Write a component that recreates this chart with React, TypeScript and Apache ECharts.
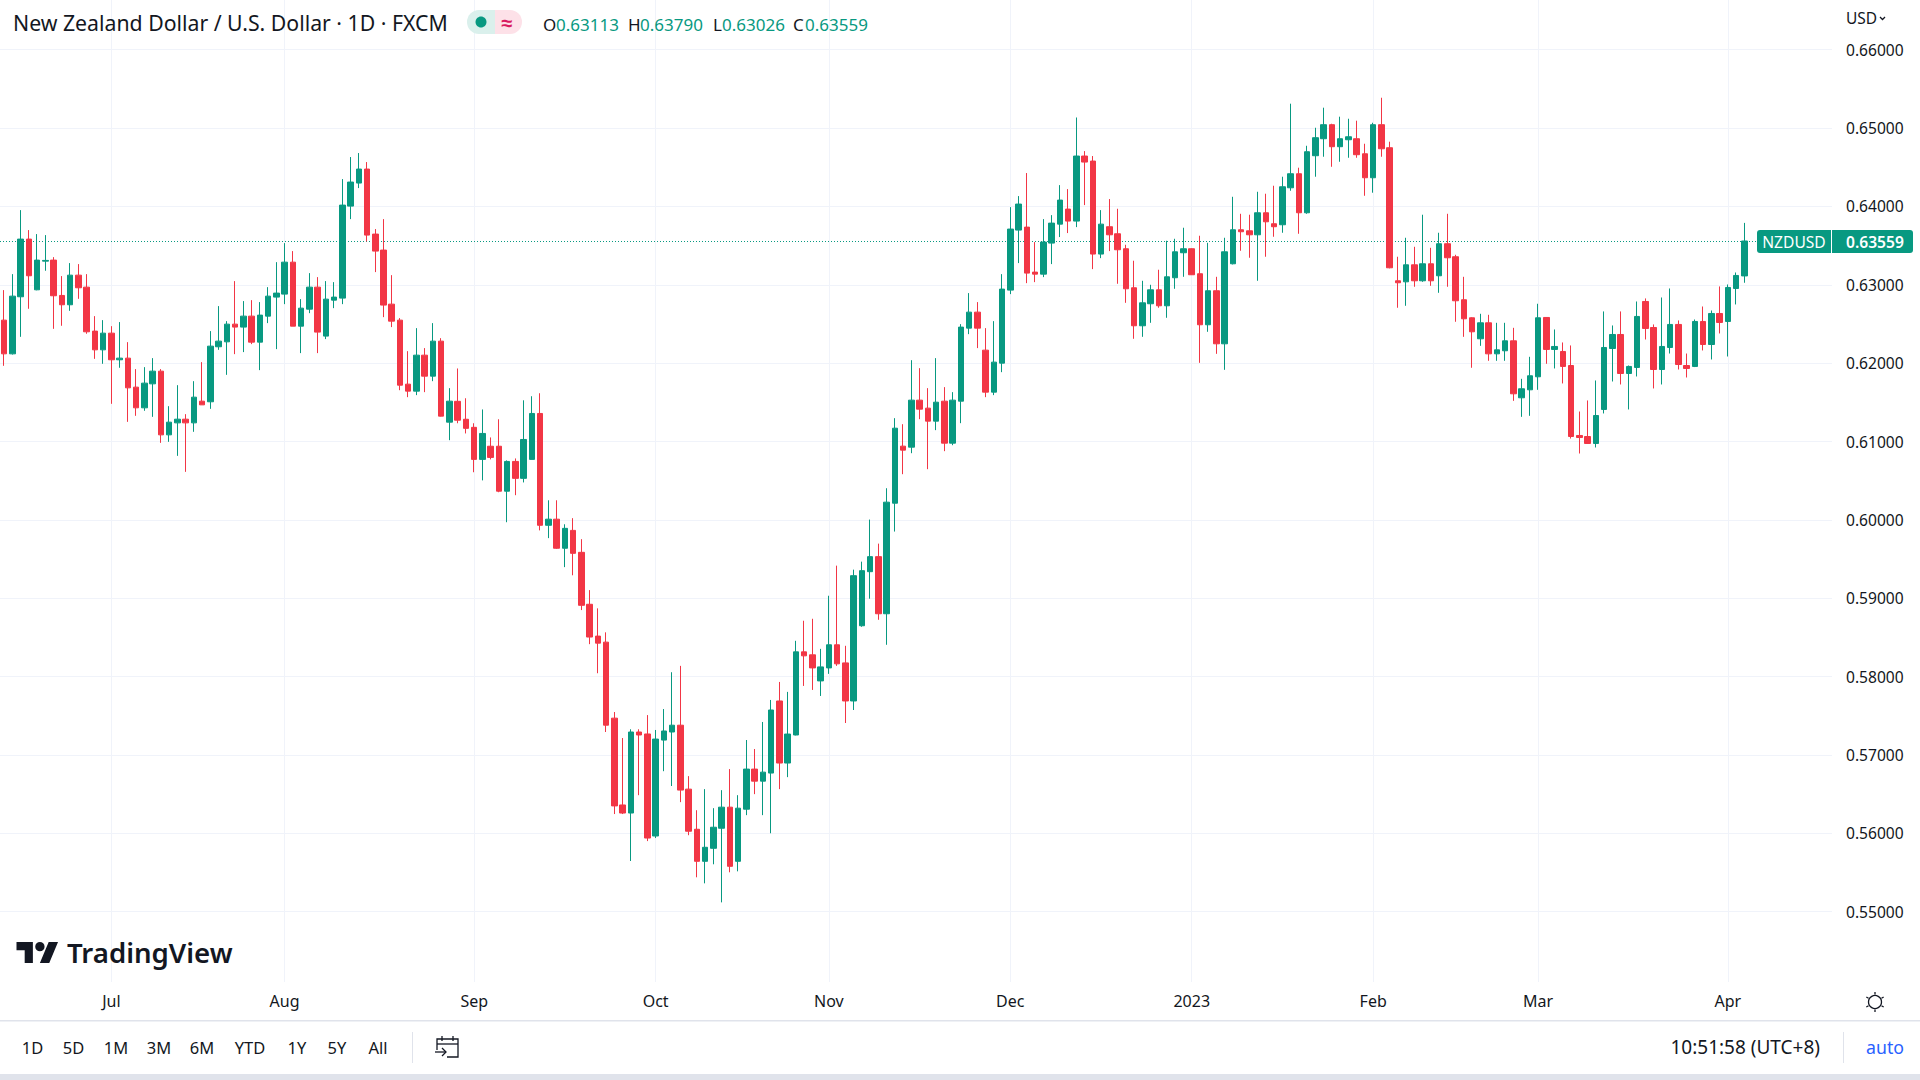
import React, { useEffect, useRef } from "react";
import * as echarts from "echarts";

const FONT = "'Noto Sans', sans-serif";
const INK = "#131722";
const UP = "#089981";
const DOWN = "#F23645";
const RULE = "#e0e3eb";
const GRIDC = "#f0f3fa";

const opens = [0.62549,0.62119,0.62847,0.63583,0.62936,0.63302,0.63315,0.62864,0.62745,0.63123,
0.62970,0.62409,0.62170,0.62383,0.62043,0.62064,0.61694,0.61430,0.61736,0.61898,
0.61085,0.61238,0.61285,0.61238,0.61515,0.61507,0.62209,0.62272,0.62498,0.62460,
0.62600,0.62268,0.62600,0.62843,0.62881,0.63289,0.62472,0.62689,0.62970,0.62345,
0.62804,0.62830,0.64004,0.64298,0.64477,0.63647,0.63443,0.62753,0.62549,0.61732,
0.61643,0.62102,0.61834,0.62281,0.61247,0.61513,0.61284,0.61181,0.60772,0.60940,
0.60940,0.60366,0.60746,0.60530,0.60772,0.61358,0.59931,0.60009,0.59638,0.59866,
0.59586,0.58923,0.58517,0.58440,0.57470,0.56362,0.56259,0.57293,0.57268,0.55966,
0.57190,0.57293,0.57380,0.56564,0.56052,0.55643,0.55809,0.56065,0.56334,0.55643,
0.56308,0.56820,0.56666,0.56769,0.57689,0.56897,0.57255,0.58316,0.58278,0.57945,
0.58111,0.58406,0.58175,0.57689,0.58649,0.59339,0.59531,0.58802,0.60213,0.60941,
0.60928,0.61528,0.61426,0.61260,0.61515,0.60979,0.61515,0.62447,0.62651,0.62166,
0.61630,0.62000,0.62932,0.63698,0.63736,0.63162,0.63136,0.63532,0.63774,0.63966,
0.63813,0.64643,0.64579,0.63392,0.63741,0.63651,0.63460,0.62962,0.62477,0.62758,
0.62936,0.62732,0.63090,0.63409,0.63460,0.63141,0.62490,0.62924,0.62247,0.63268,
0.63702,0.63689,0.63638,0.63919,0.63779,0.63766,0.64238,0.64417,0.63919,0.64647,
0.64864,0.65043,0.64762,0.64851,0.64864,0.64672,0.64366,0.65043,0.64749,0.63051,
0.63038,0.63255,0.63051,0.63268,0.63115,0.63524,0.63358,0.62809,0.62579,0.62311,
0.62515,0.62119,0.62158,0.62285,0.61558,0.61660,0.61826,0.62583,0.62175,0.62149,
0.61970,0.61077,0.61064,0.60975,0.61409,0.62187,0.62366,0.61868,0.61945,0.62787,
0.62455,0.61919,0.62200,0.62494,0.61970,0.61958,0.62532,0.62238,0.62634,0.62532,
0.62953,0.63113];

const closes = [0.62119,0.62855,0.63583,0.63115,0.63315,0.63311,0.62860,0.62745,0.63123,0.62962,
0.62400,0.62170,0.62383,0.62043,0.62064,0.61685,0.61430,0.61745,0.61898,0.61085,
0.61247,0.61285,0.61238,0.61566,0.61468,0.62217,0.62281,0.62498,0.62460,0.62600,
0.62268,0.62613,0.62855,0.62894,0.63289,0.62472,0.62702,0.62970,0.62396,0.62817,
0.62843,0.64017,0.64311,0.64477,0.63634,0.63430,0.62741,0.62536,0.61719,0.61643,
0.62102,0.61834,0.62281,0.61324,0.61515,0.61272,0.61168,0.60772,0.61103,0.60797,
0.60366,0.60746,0.60530,0.61026,0.61358,0.59931,0.60009,0.59638,0.59892,0.59573,
0.58910,0.58505,0.58427,0.57380,0.56350,0.56259,0.57293,0.57255,0.55940,0.57203,
0.57306,0.57380,0.56552,0.56027,0.55643,0.55822,0.56078,0.56334,0.55579,0.56321,
0.56820,0.56666,0.56781,0.57574,0.56897,0.57267,0.58316,0.58265,0.58111,0.58124,
0.58406,0.58163,0.57689,0.59288,0.59352,0.59531,0.58802,0.60226,0.61170,0.60890,
0.61528,0.61413,0.61260,0.61502,0.60979,0.61528,0.62460,0.62651,0.62447,0.61630,
0.62013,0.62945,0.63711,0.64030,0.63149,0.63136,0.63545,0.63787,0.64081,0.63813,
0.64643,0.64566,0.63392,0.63774,0.63638,0.63447,0.62949,0.62477,0.62770,0.62936,
0.62732,0.63102,0.63421,0.63460,0.63128,0.62490,0.62924,0.62247,0.63421,0.63702,
0.63677,0.63638,0.63919,0.63804,0.63741,0.64251,0.64417,0.63919,0.64698,0.64877,
0.65043,0.64762,0.64864,0.64889,0.64660,0.64366,0.65043,0.64736,0.63217,0.63026,
0.63255,0.63051,0.63268,0.63051,0.63524,0.63345,0.62796,0.62566,0.62400,0.62515,
0.62119,0.62170,0.62285,0.61609,0.61673,0.61839,0.62579,0.62175,0.62213,0.61958,
0.61064,0.61051,0.60975,0.61332,0.62200,0.62366,0.61868,0.61958,0.62596,0.62443,
0.61919,0.62213,0.62494,0.61983,0.61932,0.62532,0.62238,0.62634,0.62519,0.62966,
0.63119,0.63559];

const lows = [0.61966,0.62110,0.62336,0.62694,0.62930,0.63179,0.62438,0.62477,0.62668,0.62821,
0.62375,0.62055,0.61992,0.61481,0.61941,0.61251,0.61328,0.61392,0.61315,0.60983,
0.60996,0.60817,0.60613,0.61124,0.61468,0.61417,0.62170,0.61851,0.62115,0.62141,
0.62243,0.61911,0.62511,0.62179,0.62753,0.62472,0.62128,0.62638,0.62128,0.62307,
0.62702,0.62753,0.63838,0.64234,0.63553,0.63162,0.62587,0.62460,0.61655,0.61566,
0.61592,0.61630,0.61770,0.61320,0.61017,0.61233,0.61103,0.60608,0.60504,0.60772,
0.60353,0.59970,0.60315,0.60478,0.60772,0.59866,0.59767,0.59630,0.59397,0.59293,
0.58849,0.58414,0.58043,0.57293,0.56246,0.56246,0.55647,0.56487,0.55901,0.55940,
0.56793,0.56604,0.56398,0.55976,0.55439,0.55362,0.55605,0.55119,0.55503,0.55515,
0.56232,0.56500,0.56232,0.56001,0.56564,0.56717,0.57250,0.57881,0.57830,0.57753,
0.58035,0.58137,0.57408,0.57574,0.58636,0.58994,0.58725,0.58406,0.59851,0.60583,
0.60851,0.61285,0.60647,0.61145,0.60877,0.60953,0.61234,0.62370,0.62192,0.61566,
0.61592,0.61885,0.62881,0.63277,0.63021,0.63034,0.63098,0.63264,0.63609,0.63660,
0.63736,0.64017,0.63200,0.63340,0.63430,0.63013,0.62770,0.62311,0.62336,0.62515,
0.62707,0.62579,0.62949,0.63102,0.63125,0.62004,0.62400,0.62119,0.61915,0.63260,
0.63434,0.63345,0.63051,0.63358,0.63613,0.63664,0.64200,0.63651,0.63906,0.64379,
0.64634,0.64506,0.64570,0.64621,0.64621,0.64136,0.64175,0.64634,0.63210,0.62707,
0.62732,0.62975,0.63038,0.62987,0.62898,0.62975,0.62528,0.62336,0.61941,0.62221,
0.62030,0.62030,0.62030,0.61519,0.61315,0.61328,0.61660,0.61992,0.61932,0.61741,
0.61038,0.60847,0.60970,0.60924,0.61358,0.61766,0.61728,0.61409,0.61830,0.62302,
0.61677,0.61728,0.62123,0.61919,0.61817,0.61950,0.62162,0.62047,0.62379,0.62085,
0.62749,0.63026];

const highs = [0.62932,0.63136,0.63953,0.63698,0.63647,0.63634,0.63353,0.63111,0.63277,0.63264,
0.63136,0.62600,0.62549,0.62472,0.62524,0.62268,0.61924,0.61949,0.62064,0.61924,
0.61451,0.61719,0.61349,0.61770,0.62013,0.62409,0.62728,0.62536,0.63047,0.62792,
0.62804,0.62779,0.62970,0.63289,0.63532,0.63430,0.62817,0.63149,0.63098,0.63047,
0.63034,0.64349,0.64630,0.64681,0.64566,0.63711,0.63838,0.63123,0.62575,0.62153,
0.62447,0.62192,0.62511,0.62319,0.61681,0.61932,0.61552,0.61233,0.61409,0.61052,
0.61284,0.60759,0.60784,0.61526,0.61578,0.61616,0.60250,0.60250,0.59944,0.60022,
0.59754,0.59104,0.58871,0.58565,0.57548,0.57216,0.57328,0.57328,0.57509,0.57319,
0.57586,0.58056,0.58137,0.56730,0.56295,0.56564,0.56321,0.56551,0.56820,0.56487,
0.57191,0.57076,0.57421,0.57702,0.57932,0.57805,0.58457,0.58713,0.58738,0.58354,
0.59032,0.59416,0.58393,0.59365,0.59467,0.60004,0.59697,0.60404,0.61298,0.61221,
0.62038,0.61936,0.61681,0.62064,0.61694,0.61630,0.62498,0.62894,0.62779,0.62447,
0.62536,0.63136,0.63991,0.64132,0.64426,0.63545,0.63838,0.63889,0.64272,0.64221,
0.65135,0.64706,0.64643,0.63953,0.64094,0.63970,0.63511,0.63307,0.63051,0.63000,
0.63192,0.63562,0.63587,0.63728,0.63465,0.63626,0.63536,0.63102,0.63600,0.64123,
0.63906,0.63894,0.64187,0.64162,0.64264,0.64379,0.65311,0.64494,0.64774,0.65004,
0.65260,0.65055,0.65145,0.65119,0.65094,0.64800,0.65068,0.65387,0.64826,0.63358,
0.63600,0.63485,0.63894,0.63472,0.63664,0.63906,0.63383,0.63102,0.62585,0.62630,
0.62617,0.62515,0.62515,0.62451,0.61800,0.62081,0.62758,0.62585,0.62430,0.62264,
0.62226,0.61383,0.61524,0.61779,0.62660,0.62481,0.62660,0.61970,0.62787,0.62826,
0.62494,0.62838,0.62953,0.62545,0.62123,0.62557,0.62723,0.62672,0.62979,0.63004,
0.63157,0.63790];

const monthIndexes = [13, 34, 57, 79, 100, 122, 144, 166, 186, 209];
const monthLabels = ["Jul", "Aug", "Sep", "Oct", "Nov", "Dec", "2023", "Feb", "Mar", "Apr"];
const rangeButtons = ["1D", "5D", "1M", "3M", "6M", "YTD", "1Y", "5Y", "All"];
const lastPrice = 0.63559;

// one category for every weekday, with empty room at the right of the last bar
const categories: string[] = [];
for (let d = new Date(Date.UTC(2022, 5, 14)); categories.length < 222; d.setUTCDate(d.getUTCDate() + 1)) {
  if (d.getUTCDay() % 6 !== 0) categories.push(d.toISOString().slice(0, 10));
}

echarts.graphic.registerShape(
  "tvlogo",
  echarts.graphic.extendPath(
    "M14 22H7V11H0V4h14v18ZM28 22h-8l7.5-18h8L28 22ZM24 8a4 4 0 1 1-8 0 4 4 0 0 1 8 0Z",
    {}
  )
);

const PX_TOP = 49.7;
const PX_BOTTOM = 911.7;
const PER_PX = 0.11 / (PX_BOTTOM - PX_TOP);
const PLOT_BOTTOM = 982;

const label = (text: string, x: number, y: number, size: number, fill = INK, align = "left", weight: any = 400, family = FONT) => ({
  type: "text",
  silent: true,
  z: 20,
  style: { text, x, y, fontSize: size, fill, align, verticalAlign: "middle", fontFamily: family, fontWeight: weight },
});
const stroke = (type: string, shape: any, color = INK, lineWidth = 1.3) => ({
  type,
  silent: true,
  z: 20,
  shape,
  style: { stroke: color, lineWidth, fill: "none" },
});
const box = (x: number, y: number, width: number, height: number, fill: string, r: any = 0) => ({
  type: "rect",
  silent: true,
  z: 19,
  shape: { x, y, width, height, r },
  style: { fill },
});

const sunSpikes = [0, 60, 120, 180, 240, 300].map((deg) => {
  const a = ((deg + 90) * Math.PI) / 180;
  return stroke("line", {
    x1: 1875 + 7.5 * Math.cos(a),
    y1: 1002 + 7.5 * Math.sin(a),
    x2: 1875 + 10 * Math.cos(a),
    y2: 1002 + 10 * Math.sin(a),
  });
});

const graphics: any[] = [
  // header
  label("New Zealand Dollar / U.S. Dollar · 1D · FXCM", 13, 22, 21.25),
  box(467, 10, 28, 24, "#daf0ec", [12, 0, 0, 12]),
  box(495, 10, 27, 24, "#fde1e8", [0, 12, 12, 0]),
  { type: "ellipse", silent: true, z: 20, shape: { cx: 481, cy: 22, rx: 5.5, ry: 5.5 }, style: { fill: UP } },
  label("≈", 507, 22, 20, "#d81b60", "center", 700),
  label("O", 543, 24, 17),
  label("0.63113", 556, 24, 17, UP),
  label("H", 628, 24, 17),
  label("0.63790", 640, 24, 17, UP),
  label("L", 713, 24, 17),
  label("0.63026", 722, 24, 17, UP),
  label("C", 793, 24, 17),
  label("0.63559", 805, 24, 17, UP),
  // currency
  label("USD", 1846, 18, 15.5),
  stroke("polyline", { points: [[1880, 17], [1882.5, 19.5], [1885, 17]] }),
  // last price tag
  box(1757, 230, 156, 23, UP, 3),
  box(1831, 230, 1, 23, "#ffffff"),
  label("NZDUSD", 1794, 242, 15.6, "#ffffff", "center"),
  label("0.63559", 1846, 242, 15.6, "#ffffff", "left", 600),
  // watermark
  { type: "tvlogo", silent: true, z: 20, x: 16.5, y: 937.3, scaleX: 1.17, scaleY: 1.17, style: { fill: INK } },
  label("TradingView", 67, 952, 27.6, INK, "left", 600),
  // settings
  stroke("circle", { cx: 1875, cy: 1002, r: 6.5 }),
  ...sunSpikes,
  // toolbar
  box(0, 1020, 1920, 1.5, RULE),
  box(0, 1074, 1920, 6, RULE),
  ...rangeButtons.map((b, i) =>
    label(b, [32.5, 73.5, 116, 159, 202, 250, 297, 337, 378][i], 1047, 16.5, INK, "center")
  ),
  box(412, 1032, 1, 31, RULE),
  stroke("polyline", { points: [[437, 1050], [437, 1039], [458, 1039], [458, 1057], [447, 1057]] }),
  stroke("line", { x1: 437, y1: 1044, x2: 458, y2: 1044 }),
  stroke("line", { x1: 442, y1: 1036, x2: 442, y2: 1041 }),
  stroke("line", { x1: 453, y1: 1036, x2: 453, y2: 1041 }),
  stroke("line", { x1: 435, y1: 1052, x2: 446, y2: 1052 }),
  stroke("polyline", { points: [[442, 1048], [446, 1052], [442, 1056]] }),
  label("10:51:58 (UTC+8)", 1820, 1047, 19, INK, "right"),
  box(1843, 1032, 1, 31, RULE),
  label("auto", 1904, 1047, 17.7, "#2962ff", "right"),
];

export default function App() {
  const ref = useRef<HTMLDivElement>(null);
  useEffect(() => {
    const chart = echarts.init(ref.current!, undefined, { renderer: "svg" });
    chart.setOption({
      animation: false,
      backgroundColor: "#ffffff",
      textStyle: { fontFamily: FONT },
      grid: [
        { left: -1.03, top: 0, width: 222 * 8.252, height: PLOT_BOTTOM, containLabel: false },
        { left: 0, right: 88, top: PX_TOP, height: PX_BOTTOM - PX_TOP, containLabel: false },
      ],
      xAxis: [
        {
          type: "category",
          gridIndex: 0,
          data: categories,
          axisLine: { show: false },
          axisTick: { show: false },
          splitLine: {
            show: true,
            alignWithLabel: true,
            interval: (i: number) => monthIndexes.includes(i),
            lineStyle: { color: GRIDC, width: 1 },
          },
          axisLabel: {
            interval: (i: number) => monthIndexes.includes(i),
            formatter: (_: string, i: number) => monthLabels[monthIndexes.indexOf(i)] ?? "",
            margin: 11,
            fontSize: 16,
            color: INK,
            fontFamily: FONT,
            hideOverlap: false,
          },
        },
        { type: "value", gridIndex: 1, show: false, min: 0, max: 1 },
      ],
      yAxis: [
        {
          type: "value",
          gridIndex: 0,
          show: false,
          min: 0.55 - (PLOT_BOTTOM - PX_BOTTOM) * PER_PX,
          max: 0.66 + PX_TOP * PER_PX,
          splitLine: { show: false },
        },
        {
          type: "value",
          gridIndex: 1,
          position: "right",
          min: 0.55,
          max: 0.66,
          interval: 0.01,
          axisLine: { show: false },
          axisTick: { show: false },
          splitLine: { show: true, lineStyle: { color: GRIDC, width: 1 } },
          axisLabel: {
            margin: 14,
            fontSize: 15.6,
            color: INK,
            fontFamily: FONT,
            padding: [3, 0, 0, 0],
            formatter: (v: number) => v.toFixed(5),
          },
        },
      ],
      series: [
        {
          type: "candlestick",
          xAxisIndex: 0,
          yAxisIndex: 0,
          barWidth: 6,
          clip: false,
          data: opens.map((o, i) => [o, closes[i], lows[i], highs[i]]),
          itemStyle: { color: UP, color0: DOWN, borderColor: UP, borderColor0: DOWN, borderWidth: 1 },
          markLine: {
            silent: true,
            symbol: "none",
            precision: 5,
            z: 1,
            label: { show: false },
            lineStyle: { color: UP, type: [1, 2], width: 1 },
            data: [{ yAxis: lastPrice }],
          },
        },
      ],
      graphic: graphics,
    });
    return () => chart.dispose();
  }, []);
  return <div ref={ref} style={{ position: "fixed", left: 0, top: 0, width: 1920, height: 1080 }} />;
}
